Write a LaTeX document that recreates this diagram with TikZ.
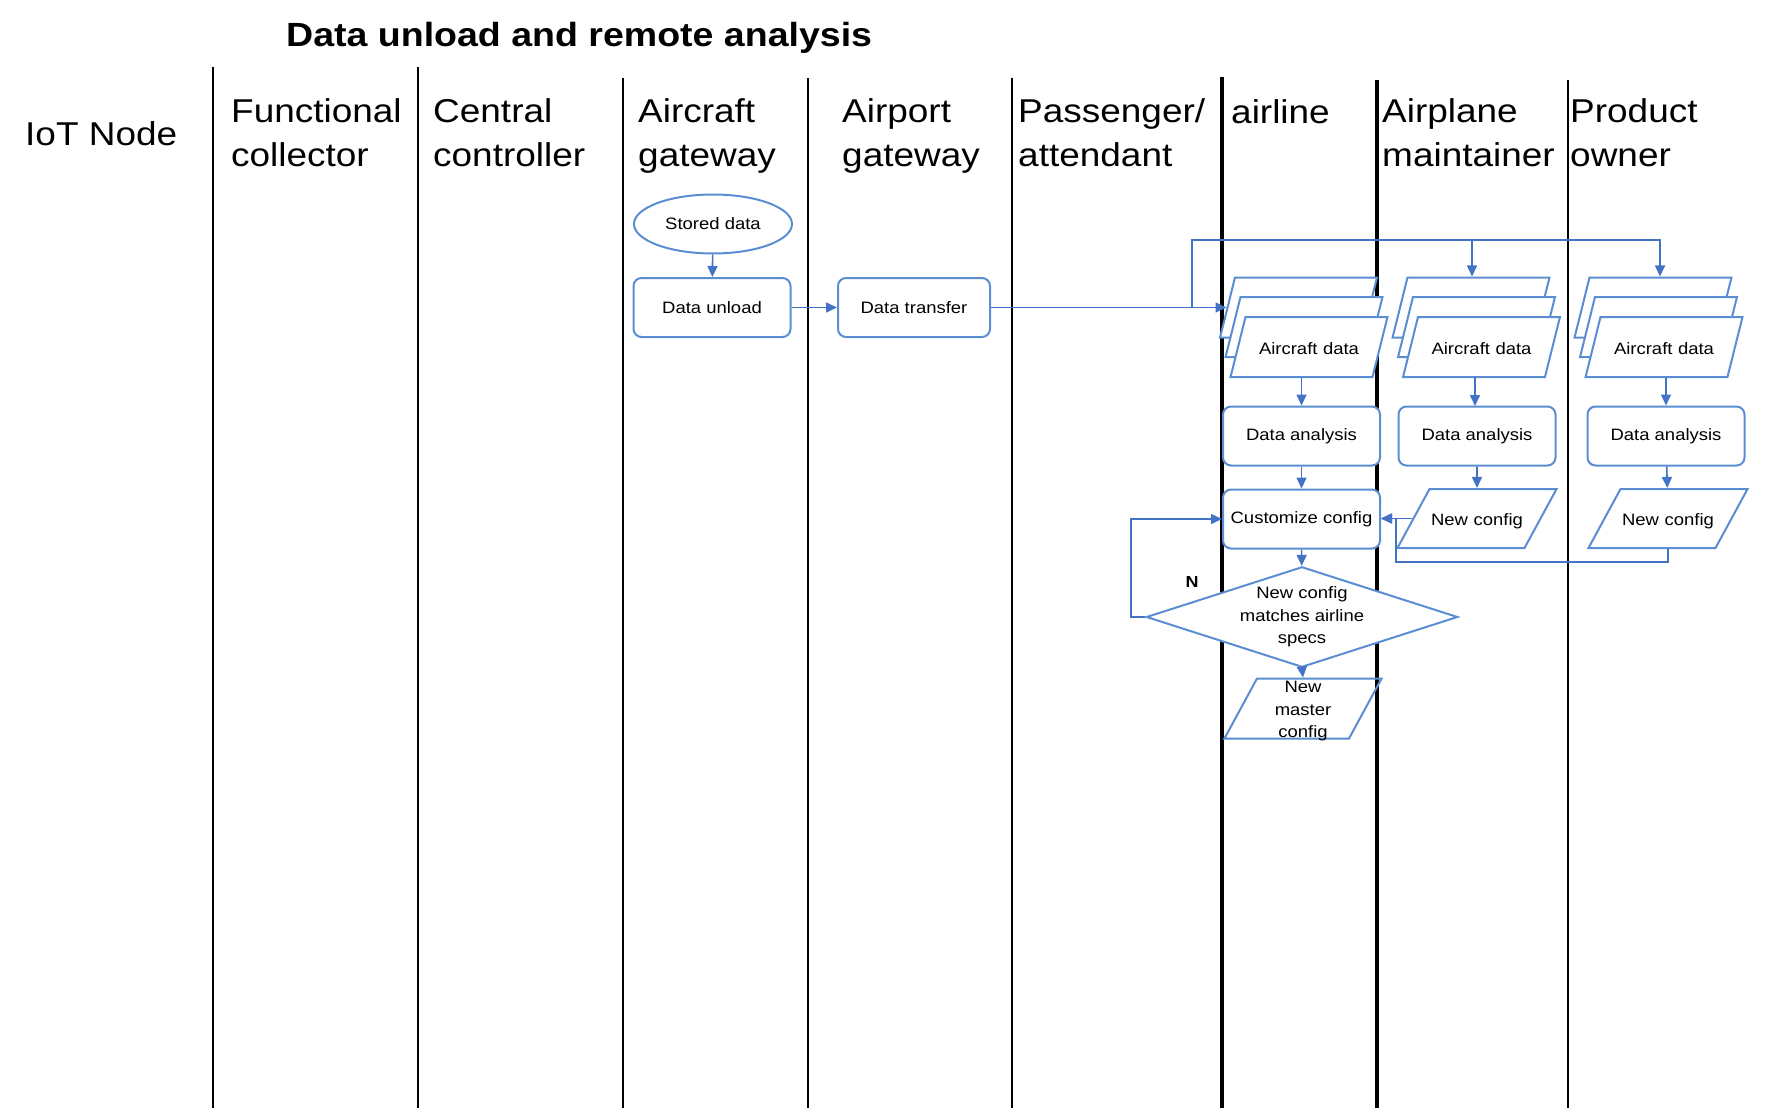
\documentclass[tikz,border=0pt]{standalone}
\usepackage{fontspec}
\setmainfont{Liberation Sans}[FakeStretch=1.12]
\usetikzlibrary{shapes.geometric,arrows.meta}
\definecolor{boxblue}{RGB}{91,141,211}
\definecolor{linkblue}{RGB}{68,114,196}
\tikzset{
  lane/.style={line width=2.4pt},
  head/.style={anchor=base west, align=left, inner sep=0pt, font=\fontsize{33}{44}\selectfont},
  proc/.style={draw=boxblue, line width=2pt, rounded corners=8pt, fill=white,
    minimum width=157pt, minimum height=59pt, inner sep=0pt, align=center,
    font=\fontsize{16.5}{22.5}\selectfont},
  datapar/.style={trapezium, trapezium left angle=76, trapezium right angle=104,
    draw=boxblue, line width=2pt, fill=white, text width=127pt, text height=15pt,
    text depth=1pt, inner xsep=0pt, inner ysep=22pt, align=center,
    font=\fontsize{16.5}{22.5}\selectfont},
  iopar/.style={datapar, trapezium left angle=61.5, trapezium right angle=118.5,
    text width=95pt, inner ysep=21.5pt},
  arr/.style={draw=linkblue, line width=1.6pt, ->},
}
\begin{document}
\begin{tikzpicture}[x=1pt,y=-1pt,>={Triangle[length=11pt,width=10pt]}]
  \useasboundingbox (0,0) rectangle (1791,1108);
  % swimlane borders
  \foreach \x/\t/\w in {213/67/2.4, 418/67/2.4, 623/78/2.4, 808/78/2.4,
      1012/78/2.4, 1222/77/3.4, 1377/80/3.2, 1568/80/2.4}
    \draw[lane, line width=\w pt] (\x,\t) -- (\x,1108);

  \node[anchor=base west, inner sep=0pt, font=\bfseries\fontsize{33.5}{40}\selectfont]
    (title) at (286,47) {Data unload and remote analysis};

  % lane headings (base = last line)
  \node[head] (hIot) at (25,145) {IoT Node};
  \node[head] (hFc) at (231,166) {Functional\\collector};
  \node[head] (hCc) at (433,166) {Central\\controller};
  \node[head] (hAg) at (638,166) {Aircraft\\gateway};
  \node[head] (hPg) at (842,166) {Airport\\gateway};
  \node[head] (hPa) at (1018,166) {Passenger/\\attendant};
  \node[head] (hAl) at (1231,123) {airline};
  \node[head] (hMt) at (1382,166) {Airplane\\maintainer};
  \node[head] (hPo) at (1570,166) {Product\\owner};

  % aircraft gateway / airport gateway
  \node[ellipse, draw=boxblue, line width=2pt, minimum width=158pt, minimum height=59pt,
    inner sep=0pt, font=\fontsize{16.5}{22.5}\selectfont] (stored) at (713,224) {Stored data};
  \node[proc] (unload) at (712,307.5) {Data unload};
  \node[proc, minimum width=152pt] (transfer) at (914,307.5) {Data transfer};

  % stacked aircraft data
  \node[datapar] (adA3) at (1298.5,307.5) {};
  \node[datapar] (adA2) at (1304,327) {};
  \node[datapar] (adA1) at (1309,347) {Aircraft data};
  \node[datapar] (adM3) at (1471,307.5) {};
  \node[datapar] (adM2) at (1476.5,327) {};
  \node[datapar] (adM1) at (1481.5,347) {Aircraft data};
  \node[datapar] (adO3) at (1653,307.5) {};
  \node[datapar] (adO2) at (1658.5,327) {};
  \node[datapar] (adO1) at (1664,347) {Aircraft data};

  \node[proc] (anaA) at (1301.5,436) {Data analysis};
  \node[proc] (anaM) at (1477,436) {Data analysis};
  \node[proc] (anaO) at (1666,436) {Data analysis};

  \node[proc] (custom) at (1301.5,519) {Customize config};
  \node[iopar] (newM) at (1477,518.5) {New config};
  \node[iopar] (newO) at (1668,518.5) {New config};

  \node[diamond, aspect=3.1, draw=boxblue, line width=2pt, fill=white, minimum width=308pt,
    minimum height=98pt, inner sep=0pt, align=center,
    font=\fontsize{16.5}{22.5}\selectfont] (match) at (1302,617)
    {New config\\matches airline\\specs};
  \node[iopar, text width=92pt, text height=14pt, text depth=46pt, inner ysep=0pt,
    fill=none] (master) at (1303,708.5) {New\\master\\config};
  \node[font=\bfseries\fontsize{16}{18}\selectfont] (no) at (1192,582) {N};

  % connectors
  \draw[arr] (stored) -- (unload);
  \draw[arr] (unload) -- (transfer);
  \draw[arr] (transfer.east) -- (adA3.west);
  \coordinate (fork) at (1192,307.5);
  \coordinate (dropM) at (1472,240);
  \coordinate (dropO) at (1660,240);
  \draw[arr] (fork) |- (dropO) -- (dropO |- adO3.north);
  \draw[arr] (dropM) -- (dropM |- adM3.north);

  \draw[arr] (anaA.north |- adA1.south) -- (anaA.north);
  \draw[arr] (1475,377) -- (1475,406);
  \draw[arr] (anaO.north |- adO1.south) -- (anaO.north);
  \draw[arr] (anaA) -- (custom);
  \draw[arr] (anaM) -- (newM);
  \draw[arr] (anaO) -- (newO);
  \draw[arr] (newM.west) -- (newM.west -| custom.east);
  \draw[arr] (newO.south) -- ++(0,13) -| ([xshift=15pt]custom.east |- newM.west)
    -- (newM.west -| custom.east);
  \draw[arr] (custom) -- (match);
  \draw[arr] (match.west) -- ++(-14,0) |- (custom.west);
  \draw[arr] (match.south) -- (master.north);
\end{tikzpicture}
\end{document}
